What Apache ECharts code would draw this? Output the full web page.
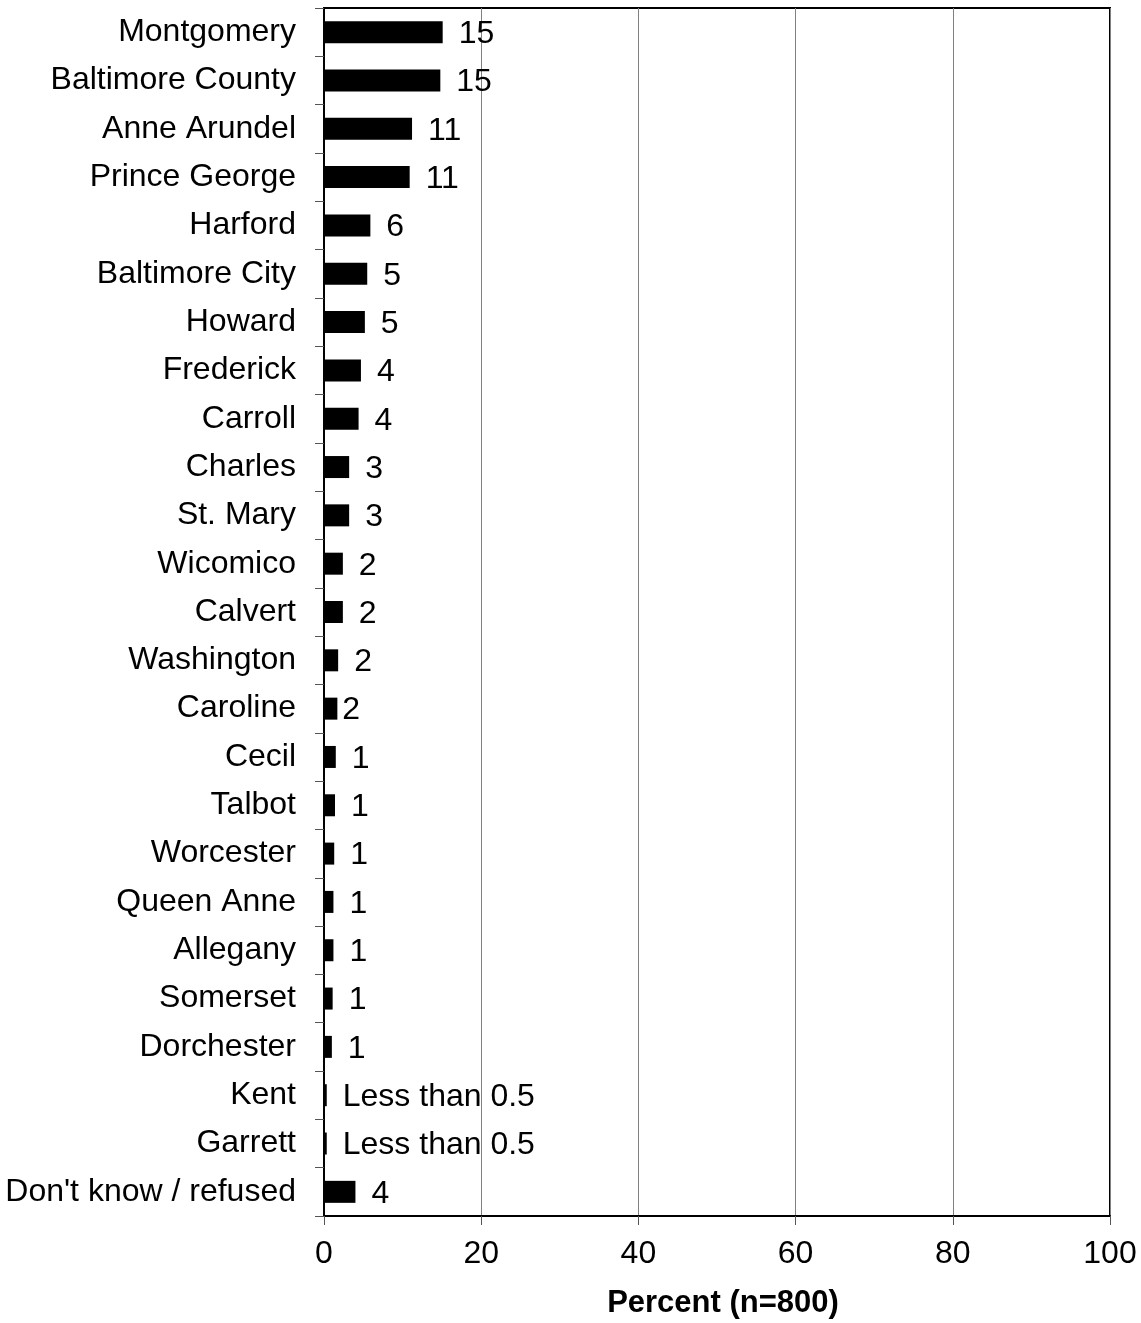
<!DOCTYPE html>
<html>
<head>
<meta charset="utf-8">
<script src="https://cdn.jsdelivr.net/npm/echarts@6/dist/echarts.min.js"></script>
<style>
html,body{margin:0;padding:0;background:#fff;}
#chart{width:1141px;height:1323px;}
</style>
</head>
<body>
<div id="chart"></div>
<script>
const categories = ["Montgomery","Baltimore County","Anne Arundel","Prince George","Harford","Baltimore City","Howard","Frederick","Carroll","Charles","St. Mary","Wicomico","Calvert","Washington","Caroline","Cecil","Talbot","Worcester","Queen Anne","Allegany","Somerset","Dorchester","Kent","Garrett","Don't know / refused"];
const values = [15.1,14.8,11.2,10.9,5.9,5.5,5.2,4.7,4.4,3.2,3.2,2.4,2.4,1.8,1.7,1.5,1.4,1.3,1.2,1.2,1.1,1.0,0.35,0.35,4.0];
const valueLabels = ["15","15","11","11","6","5","5","4","4","3","3","2","2","2","2","1","1","1","1","1","1","1","Less than 0.5","Less than 0.5","4"];
const xTicks = [0,20,40,60,80,100];

const FONT = '"Liberation Sans", Arial, sans-serif';
const chart = echarts.init(document.getElementById('chart'), null, {renderer:'canvas'});

const data = values.map((v,i)=>{
  const d = {value:v, label:{formatter: valueLabels[i]}};
  if (categories[i] === 'Caroline') d.label.distance = 5;
  return d;
});

chart.setOption({
  animation:false,
  backgroundColor:'#fff',
  grid:{left:324, right:31, top:8, bottom:107, show:true, borderColor:'#000', borderWidth:2, containLabel:false, outerBoundsMode:'none'},
  xAxis:{
    type:'value', min:0, max:100, interval:20,
    axisLine:{show:true, lineStyle:{color:'#000', width:2}},
    axisTick:{show:true, length:9, lineStyle:{color:'#555', width:1}},
    axisLabel:{fontFamily:FONT, fontSize:32, color:'#000', margin:22, formatter:(v)=>xTicks.includes(v)?String(v):''},
    splitLine:{show:true, lineStyle:{color:'#808080', width:1}},
    name:'Percent (n=800)', nameLocation:'middle', nameGap:72,
    nameTextStyle:{fontFamily:FONT, fontSize:31, fontWeight:'bold', color:'#000', padding:[0,0,0,12]}
  },
  yAxis:{
    type:'category', data:categories, inverse:true,
    axisLine:{show:true, lineStyle:{color:'#000', width:2}},
    axisTick:{show:true, length:9, lineStyle:{color:'#555', width:1}},
    axisLabel:{fontFamily:FONT, fontSize:32, color:'#000', margin:28}
  },
  series:[{
    type:'bar', data:data, barWidth:22,
    itemStyle:{color:'#000'},
    label:{show:true, position:'right', distance:16, offset:[0,2], fontFamily:FONT, fontSize:32, color:'#000'}
  }]
});
</script>
</body>
</html>
